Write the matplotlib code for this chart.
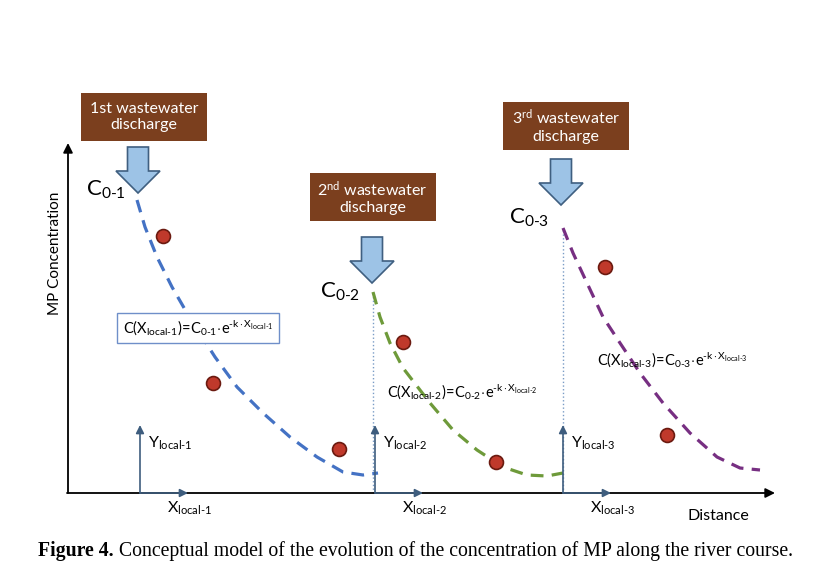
import matplotlib
matplotlib.use("Agg")
import matplotlib.pyplot as plt
from matplotlib.patches import Polygon, Rectangle

plt.rcParams['font.family'] = ['Lato', 'DejaVu Sans']
plt.rcParams['mathtext.fontset'] = 'custom'
plt.rcParams['mathtext.rm'] = 'Lato'
plt.rcParams['mathtext.it'] = 'Lato:italic'
plt.rcParams['mathtext.bf'] = 'Lato:bold'

# conceptual curves (distance, concentration)
curve1_x = [69, 77, 89, 104, 119, 147, 169, 195, 222, 249, 275, 295, 310]
curve1_y = [293, 266, 236, 206, 180, 136, 106, 80, 56, 36, 21, 18, 20]
curve2_x = [305, 312, 322, 335, 362, 385, 409, 435, 459, 479, 495]
curve2_y = [201, 176, 150, 125, 90, 63, 43, 26, 18, 17, 20]
curve3_x = [495, 505, 519, 535, 552, 572, 595, 622, 649, 672, 692]
curve3_y = [265, 240, 210, 176, 150, 120, 90, 60, 36, 25, 23]

# measured MP concentrations
obs_x = [95, 145, 271, 335, 428, 537, 599]
obs_y = [257, 110, 44, 151, 31, 226, 58]

# discharges
discharge_labels = ["1st wastewater\ndischarge",
                    "2$^{\\mathrm{nd}}$ wastewater\ndischarge",
                    "3$^{\\mathrm{rd}}$ wastewater\ndischarge"]
discharge_x = [70, 304, 493]
arrow_tip_y = [300, 210, 288]
box_center = [(76, 376), (304.5, 296), (498, 367.5)]
c0_labels = ["$\\mathrm{C_{0\\text{-}1}}$", "$\\mathrm{C_{0\\text{-}2}}$", "$\\mathrm{C_{0\\text{-}3}}$"]
c0_label_y = [303, 201, 275]
local_x = [72, 307, 495]
local_names = ["local\\text{-}1", "local\\text{-}2", "local\\text{-}3"]
formula_pos = [(130, 165), (319, 101), (529, 133)]

curve_colors = ['#4472C4', '#6E9A3A', '#772F82']

fig = plt.figure(figsize=(8.23, 5.83), dpi=100)
ax = fig.add_axes([0, 0, 1, 1])
ax.set_xlim(-68, 755)
ax.set_ylim(-90, 493)
ax.axis('off')

# main axes
ax.annotate('', xy=(0, 350), xytext=(0, 0),
            arrowprops=dict(arrowstyle='-|>', color='black', lw=1.3, mutation_scale=14, shrinkA=0, shrinkB=0))
ax.annotate('', xy=(707, 0), xytext=(-1, 0),
            arrowprops=dict(arrowstyle='-|>', color='black', lw=1.3, mutation_scale=14, shrinkA=0, shrinkB=0))
ax.text(-13, 240, "MP Concentration", rotation=90, ha='center', va='center', fontsize=11)
ax.text(620, -23, "Distance", ha='left', va='center', fontsize=11.5)

# dotted guides at discharges 2 and 3
ax.plot([curve2_x[0], curve2_x[0]], [0, curve2_y[0]], ls=':', color='#7A9CC6', lw=1)
ax.plot([curve3_x[0], curve3_x[0]], [0, curve3_y[0]], ls=':', color='#7A9CC6', lw=1)

# decay curves
for cx, cy, col in [(curve1_x, curve1_y, curve_colors[0]),
                    (curve2_x, curve2_y, curve_colors[1]),
                    (curve3_x, curve3_y, curve_colors[2])]:
    ax.plot(cx, cy, color=col, lw=2.3, dashes=(4.0, 2.6), solid_capstyle='butt')

ax.plot(obs_x, obs_y, 'o', ms=10, mfc='#C0392B', mec='#6B1A10', mew=1.2, zorder=5)

# local axes
lc = '#3E5D7E'
for i, lx in enumerate(local_x):
    ax.annotate('', xy=(lx, 68), xytext=(lx, 0),
                arrowprops=dict(arrowstyle='-|>', color=lc, lw=1.2, mutation_scale=12, shrinkA=0, shrinkB=0))
    ax.annotate('', xy=(lx + 48, 0), xytext=(lx, 0),
                arrowprops=dict(arrowstyle='-|>', color=lc, lw=1.2, mutation_scale=12, shrinkA=0, shrinkB=0))
    ax.text(lx + 8, 50, "$\\mathrm{Y_{%s}}$" % local_names[i], ha='left', va='center', fontsize=11.5)
    ax.text(lx + 27, -15, "$\\mathrm{X_{%s}}$" % local_names[i], ha='left', va='center', fontsize=11.5)

# discharge arrows and boxes
for i, dx in enumerate(discharge_x):
    ty = arrow_tip_y[i]
    hw, sw, hh, sh = 22, 10.5, 22, 24
    pts = [(dx, ty), (dx - hw, ty + hh), (dx - sw, ty + hh), (dx - sw, ty + hh + sh),
           (dx + sw, ty + hh + sh), (dx + sw, ty + hh), (dx + hw, ty + hh)]
    ax.add_patch(Polygon(pts, closed=True, fc='#9DC3E6', ec='#3F5F80', lw=1.2, zorder=4))
    bx, by = box_center[i]
    ax.add_patch(Rectangle((bx - 63, by - 24), 126, 48, fc='#7B3F1E', ec='none', zorder=4))
    ax.text(bx, by, discharge_labels[i], color='white', ha='center', va='center',
            fontsize=11.5, linespacing=1.25, zorder=5)
    ax.text(dx - 12, c0_label_y[i], c0_labels[i], ha='right', va='center', fontsize=16)

# model formulas
for i, (fx, fy) in enumerate(formula_pos):
    n = i + 1
    s = ("$\\mathrm{C(X_{local\\text{-}%d})\\!=\\!C_{0\\text{-}%d}\\!\\cdot\\! e^{\\text{-}k\\cdot X_{local\\text{-}%d}}}$"
         % (n, n, n))
    if i == 0:
        ax.text(fx, fy, s, ha='center', va='center', fontsize=10.5,
                bbox=dict(boxstyle='square,pad=0.4', fc='white', ec='#6F8FC9', lw=1))
    else:
        ax.text(fx, fy, s, ha='left', va='center', fontsize=10.5)

# caption
t1 = ax.text(-30, -58, "Figure 4.", fontsize=14.2, fontweight='bold', family='Liberation Serif',
             ha='left', va='center')
ax.annotate(" Conceptual model of the evolution of the concentration of MP along the river course.",
            xy=(1, 0), xycoords=t1, ha='left', va='bottom', fontsize=14.2, family='Liberation Serif')

fig.savefig("out.png", dpi=100)
